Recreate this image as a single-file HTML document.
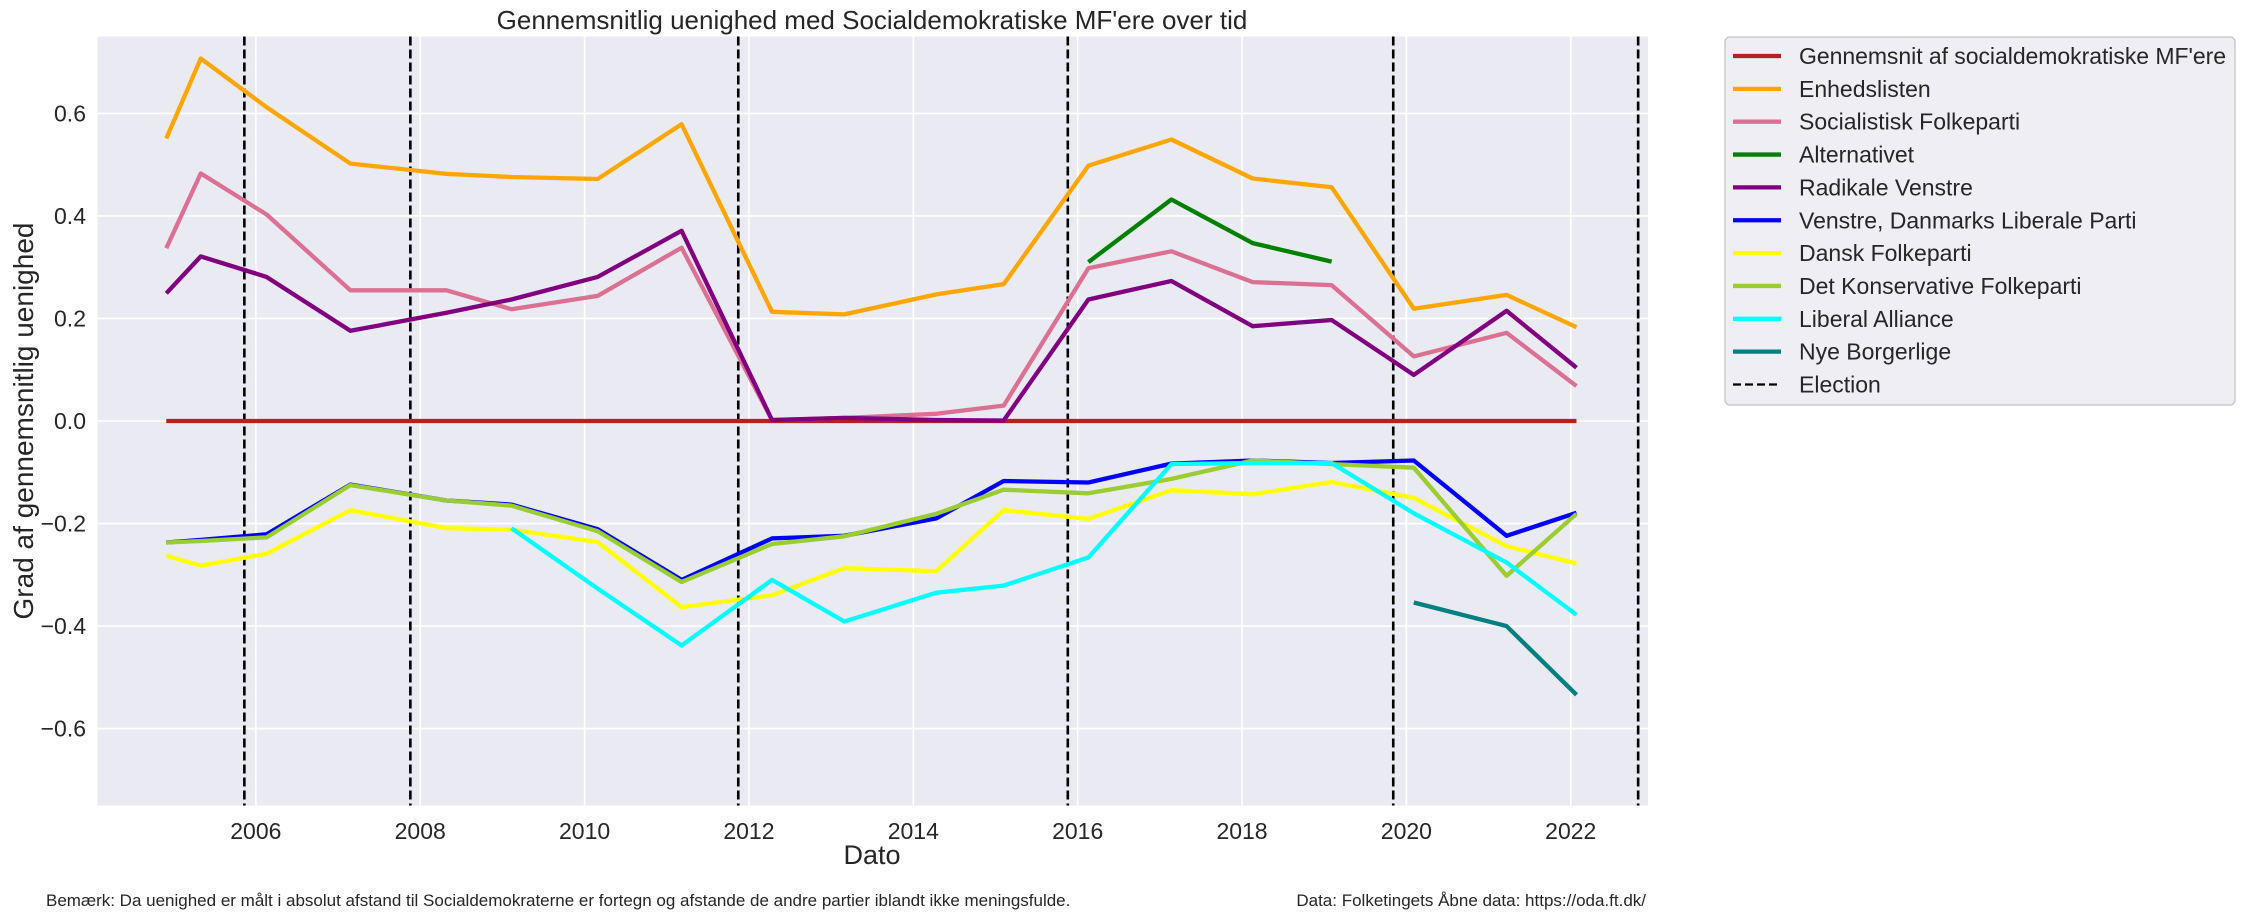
<!DOCTYPE html>
<html><head><meta charset="utf-8">
<style>
html,body{margin:0;padding:0;background:#fff;}
svg{display:block;font-family:"Liberation Sans",Arial,sans-serif;}
</style></head>
<body>
<svg id="chart" width="2244" height="919" viewBox="0 0 2244 919" xmlns="http://www.w3.org/2000/svg">
<rect x="0" y="0" width="2244" height="919" fill="#ffffff"/>
<rect x="97.5" y="36.5" width="1550.5" height="769" fill="#eaeaf2"/>
<g id="grid"></g>
<g id="ticks"></g>
<g id="elections"></g>
<g id="series"></g>
<text x="872" y="29" font-size="26" text-anchor="middle" fill="#262626">Gennemsnitlig uenighed med Socialdemokratiske MF'ere over tid</text>
<text x="872" y="864" font-size="27" text-anchor="middle" fill="#262626">Dato</text>
<text x="0" y="0" font-size="28" text-anchor="middle" fill="#262626" transform="translate(33,421) rotate(-90)">Grad af gennemsnitlig uenighed</text>
<text x="46" y="906" font-size="17" fill="#262626">Bemærk: Da uenighed er målt i absolut afstand til Socialdemokraterne er fortegn og afstande de andre partier iblandt ikke meningsfulde.</text>
<text x="1646" y="906" font-size="17" text-anchor="end" fill="#262626">Data: Folketingets Åbne data: https://oda.ft.dk/</text>
<g id="legend"></g>
</svg>
<script>
const dates = [2004.91,2005.33,2006.13,2007.15,2008.32,2009.11,2010.16,2011.18,2012.28,2013.16,2014.28,2015.10,2016.13,2017.14,2018.13,2019.09,2020.09,2021.22,2022.07];
const electionDates = [2005.86,2007.88,2011.87,2015.88,2019.84,2022.82];
const xTicks = [2006,2008,2010,2012,2014,2016,2018,2020,2022];
const yTicks = [-0.6,-0.4,-0.2,0.0,0.2,0.4,0.6];
const yTickLabels = ["\u22120.6","\u22120.4","\u22120.2","0.0","0.2","0.4","0.6"];
const seriesNames = ["Gennemsnit af socialdemokratiske MF'ere","Enhedslisten","Socialistisk Folkeparti","Alternativet","Radikale Venstre","Venstre, Danmarks Liberale Parti","Dansk Folkeparti","Det Konservative Folkeparti","Liberal Alliance","Nye Borgerlige"];
const seriesColors = ["#b22222","#ffa500","#db7093","#008000","#800080","#0000ff","#ffff00","#9acd32","#00ffff","#008080"];
const meanVals = [0,0,0,0,0,0,0,0,0,0,0,0,0,0,0,0,0,0,0];
const elVals = [0.551,0.707,0.612,0.502,0.482,0.476,0.472,0.579,0.213,0.208,0.247,0.267,0.498,0.549,0.473,0.456,0.219,0.246,0.183];
const sfVals = [0.337,0.483,0.403,0.255,0.255,0.218,0.244,0.338,0.002,0.006,0.014,0.030,0.298,0.331,0.271,0.265,0.126,0.172,0.068];
const altVals = [null,null,null,null,null,null,null,null,null,null,null,null,0.310,0.432,0.347,0.311,null,null,null];
const rvVals = [0.249,0.321,0.281,0.176,0.211,0.237,0.281,0.371,0.002,0.006,0.002,0.001,0.237,0.273,0.185,0.197,0.090,0.215,0.104];
const vVals = [-0.237,-0.232,-0.221,-0.124,-0.155,-0.163,-0.211,-0.310,-0.229,-0.224,-0.190,-0.117,-0.120,-0.083,-0.077,-0.082,-0.077,-0.224,-0.179];
const dfVals = [-0.263,-0.282,-0.259,-0.174,-0.209,-0.212,-0.236,-0.363,-0.340,-0.287,-0.293,-0.174,-0.191,-0.135,-0.143,-0.119,-0.150,-0.244,-0.278];
const kVals = [-0.237,-0.234,-0.227,-0.125,-0.155,-0.165,-0.215,-0.314,-0.240,-0.225,-0.181,-0.134,-0.141,-0.113,-0.077,-0.084,-0.091,-0.302,-0.181];
const laVals = [null,null,null,null,null,-0.209,-0.327,-0.438,-0.310,-0.391,-0.335,-0.321,-0.266,-0.084,-0.082,-0.082,-0.180,-0.276,-0.378];
const nbVals = [null,null,null,null,null,null,null,null,null,null,null,null,null,null,null,null,-0.354,-0.400,-0.534];
const allSeries = [meanVals,elVals,sfVals,altVals,rvVals,vVals,dfVals,kVals,laVals,nbVals];

const NS = "http://www.w3.org/2000/svg";
const X0 = 97.5, X1 = 1648, Y0 = 36.5, Y1 = 805.5;
const xMin = 2004.073, xMax = 2022.94, yMin = -0.75, yMax = 0.75;
function xs(v){ return X0 + (v - xMin) / (xMax - xMin) * (X1 - X0); }
function ys(v){ return Y1 - (v - yMin) / (yMax - yMin) * (Y1 - Y0); }
function mk(tag, attrs, parent){ const e = document.createElementNS(NS, tag); for (const k in attrs) e.setAttribute(k, attrs[k]); parent.appendChild(e); return e; }

const grid = document.getElementById('grid');
const ticks = document.getElementById('ticks');
xTicks.forEach(t => {
  const l = mk('line', {x1: xs(t), x2: xs(t), y1: Y0, y2: Y1, stroke: '#ffffff', 'stroke-width': 1.6}, grid);
  
  
  const tx = mk('text', {x: xs(t), y: 839, 'font-size': 23, 'text-anchor': 'middle', fill: '#262626'}, ticks);
  tx.textContent = String(t);
  
  
});
yTicks.forEach((t, i) => {
  const l = mk('line', {x1: X0, x2: X1, y1: ys(t), y2: ys(t), stroke: '#ffffff', 'stroke-width': 1.6}, grid);
  
  
  const tx = mk('text', {x: 86, y: ys(t) + 8, 'font-size': 23, 'text-anchor': 'end', fill: '#262626'}, ticks);
  tx.textContent = yTickLabels[i];
  
  
});

const series = document.getElementById('series');
allSeries.forEach((vals, si) => {
  let d = '', pen = false;
  vals.forEach((v, i) => {
    if (v === null) { pen = false; return; }
    d += (pen ? 'L' : 'M') + xs(dates[i]).toFixed(1) + ',' + ys(v).toFixed(1);
    pen = true;
  });
  const p = mk('path', {d: d, fill: 'none', stroke: seriesColors[si], 'stroke-width': 4.3, 'stroke-linejoin': 'round', 'stroke-linecap': 'butt'}, series);
  
  
});

const el = document.getElementById('elections');
electionDates.forEach(t => {
  const l = mk('line', {x1: xs(t), x2: xs(t), y1: Y0, y2: Y1, stroke: '#000000', 'stroke-width': 2.6, 'stroke-dasharray': '9,4'}, el);
  
  
});

const lg = document.getElementById('legend');
const box = mk('rect', {x: 1725, y: 37, width: 510, height: 368, rx: 5, fill: '#eeeef4', stroke: '#cccccc', 'stroke-width': 1.5}, lg);


const legendLabels = seriesNames.concat(['Election']);
legendLabels.forEach((name, i) => {
  const cy = 56 + i * 32.85;
  const isEl = i === seriesNames.length;
  const ln = mk('line', {x1: 1733, x2: 1781, y1: cy, y2: cy, stroke: isEl ? '#000' : seriesColors[i], 'stroke-width': isEl ? 2.2 : 4.3, 'stroke-dasharray': isEl ? '8,4' : 'none'}, lg);
  
  
  const tx = mk('text', {x: 1799, y: cy + 8, 'font-size': 23, fill: '#262626'}, lg);
  tx.textContent = name;
  if (i === 0) tx.setAttribute('textLength', '427');
  
  
});
</script>
</body></html>
